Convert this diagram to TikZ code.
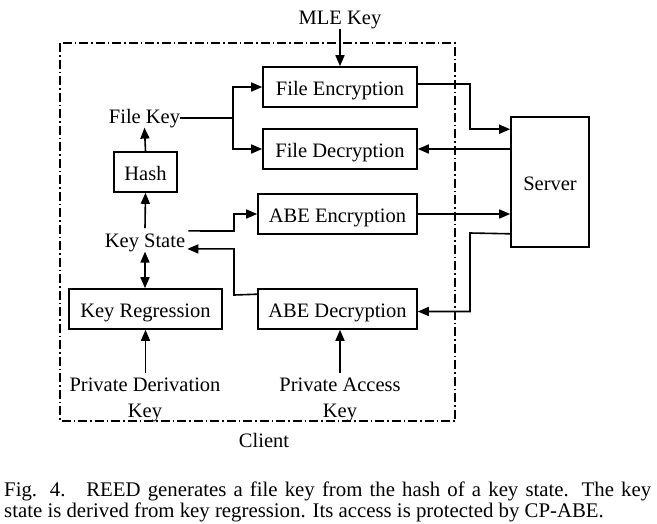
\documentclass[tikz,border=0pt]{standalone}
\usepackage{fontspec}
\setmainfont{Liberation Serif}
\usetikzlibrary{arrows.meta,calc}
\begin{document}
\begin{tikzpicture}[x=1pt,y=-1pt,
  font=\fontsize{20.5}{24}\selectfont,
  box/.style={draw,line width=1.6pt,minimum height=40pt,inner sep=0pt,text height=16pt,text depth=0pt},
  lbl/.style={inner sep=0pt,anchor=base},
  conn/.style={line width=1.6pt,-{Triangle[length=11pt,width=9pt]}},
  plainline/.style={line width=1.6pt},
  clientbox/.style={line width=1.4pt,dash pattern=on 9pt off 3pt on 1.5pt off 3pt},
  captxt/.style={inner sep=0pt,anchor=base west,font=\fontsize{20.8}{24}\selectfont}]
\useasboundingbox (0,0) rectangle (657,523);
% client frame
\draw[clientbox] (60,43) rectangle (455,421);
% boxes
\node[box,minimum width=154pt] (fe) at (340,87) {File Encryption};
\node[box,minimum width=154pt] (fd) at (340,149) {File Decryption};
\node[box,minimum width=159pt] (abee) at (337.5,214) {ABE Encryption};
\node[box,minimum width=159pt] (abed) at (337.5,309) {ABE Decryption};
\node[box,minimum width=63pt] (hash) at (145.5,172) {Hash};
\node[box,minimum width=153pt] (kr) at (145.5,309) {Key Regression};
\node[box,minimum width=78pt,minimum height=130pt] (srv) at (550,182) {Server};
% labels
\node[lbl] (mle) at (340,24) {MLE Key};
\node[lbl] (fk) at (144.5,123) {File Key};
\node[lbl] (ks) at (145,247) {Key State};
\node[lbl] (pdk1) at (145,391) {Private Derivation};
\node[lbl] (pdk2) at (145,417) {Key};
\node[lbl] (pak1) at (340,391) {Private Access};
\node[lbl] (pak2) at (340,417) {Key};
\node[lbl] (cl) at (264,447) {Client};
% connectors
\draw[conn] (mle.south) -- (fe.north);
\coordinate (fksplit) at ($(fk.east -| abee.west)+(-24,0)$);
\draw[plainline] (fk.east) -- (fksplit);
\draw[conn] (fksplit) |- (fe.west);
\draw[conn] (fksplit) |- (fd.west);
\draw[conn] (hash.north) -- (fk.south);
\coordinate (kstop) at ($(ks.north)+(0,-5)$);
\draw[conn] (kstop) -- (hash.south);
\draw[line width=1.6pt,{Triangle[length=11pt,width=9pt]}-{Triangle[length=11pt,width=9pt]}] (ks.south) -- (ks.south |- kr.north);
\coordinate (pdktop) at ($(pdk1.north)+(0.5,-4)$);
\coordinate (paktop) at ($(pak1.north)+(0,-4)$);
\draw[conn] (pdktop) -- (pdktop |- kr.south);
\draw[conn] (paktop) -- (paktop |- abed.south);
% key state -> ABE enc
\coordinate (ksout) at ($(ks.east)+(3,-11.5)$);
\draw[conn] (ksout) -- (234,231) |- (abee.west);
% ABE dec -> key state
\coordinate (ksin) at ($(ks.east)+(2,6.5)$);
\draw[conn] ($(abed.north west)+(0,6)$) -- (234,295) |- (ksin);
% server links
\draw[conn] ($(fe.east)+(0,-3)$) -- (470,84) |- ($(srv.north west)+(0,13)$);
\draw[conn] (srv.west |- fd.east) -- (fd.east);
\draw[conn] (abee.east) -- (srv.west |- abee.east);
\draw[conn] ($(srv.south west)+(0,-14)$) -- (470,233) |- ($(abed.east)+(0,2.5)$);
% caption
\node[captxt] (c1) at (4,496) {\makebox[647pt][s]{Fig. 4.\quad REED generates a file key from the hash of a key state. The key}};
\node[captxt] (c2) at (4,517) {state is derived from key regression. Its access is protected by CP-ABE.};
\end{tikzpicture}
\end{document}
